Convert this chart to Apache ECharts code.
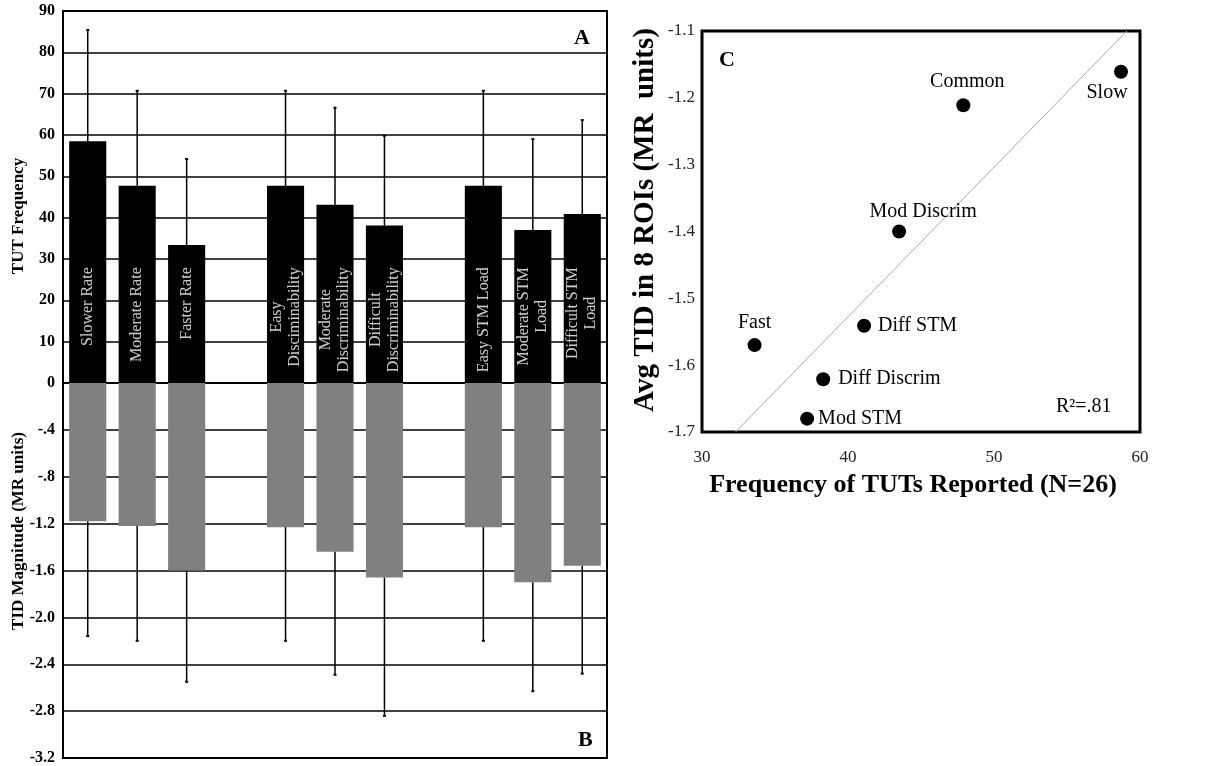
<!DOCTYPE html>
<html>
<head>
<meta charset="utf-8">
<script src="https://cdn.jsdelivr.net/npm/echarts@6/dist/echarts.min.js"></script>
<style>
html,body{margin:0;padding:0;background:#fff;}
#chart{width:1232px;height:766px;}
</style>
</head>
<body>
<div id="chart"></div>
<script>
// ---------- Panel A/B data (11 slots, 2 empty gaps) ----------
const categories = ['Slower Rate', 'Moderate Rate', 'Faster Rate', '',
  'Easy\nDisciminability', 'Moderate\nDiscriminability', 'Difficult\nDiscriminability', '',
  'Easy STM Load', 'Moderate STM\nLoad', 'Difficult STM\nLoad'];
const tutFreq   = [58.5, 47.7, 33.4, null, 47.7, 43.1, 38.1, null, 47.7, 37.0, 40.9];
const tutErrTop = [85.4, 70.7, 54.2, null, 70.7, 66.6, 59.8, null, 70.7, 59.0, 63.6];
const tidMag    = [-1.18, -1.22, -1.60, null, -1.23, -1.44, -1.66, null, -1.23, -1.70, -1.56];
const tidErrLow = [-2.16, -2.20, -2.55, null, -2.20, -2.49, -2.84, null, -2.20, -2.63, -2.48];
const tutTicks  = ['0', '10', '20', '30', '40', '50', '60', '70', '80', '90'];
const tidTicks  = ['0', '-.4', '-.8', '-1.2', '-1.6', '-2.0', '-2.4', '-2.8', '-3.2'];

// ---------- Panel C data ----------
const condNames = ['Slow', 'Common', 'Mod Discrim', 'Fast', 'Diff STM', 'Diff Discrim', 'Mod STM'];
const condFreq  = [58.7, 47.9, 43.5, 33.6, 41.1, 38.3, 37.2];
const condTid   = [-1.161, -1.211, -1.400, -1.570, -1.541, -1.621, -1.680];
const fitX      = [32.3, 59.1];
const fitY      = [-1.7, -1.1];
const freqTicks = ['30', '40', '50', '60'];
const tidCTicks = ['-1.7', '-1.6', '-1.5', '-1.4', '-1.3', '-1.2', '-1.1'];

// ---------- layout / style constants ----------
const SERIF = '"Liberation Serif", "DejaVu Serif", "Times New Roman", serif';
const LABEL_ANCHOR = 28; // value where the white bar captions end
const labelStyleByName = {
  'Slow':         {position: 'bottom', distance: 4, offset: [-14, 0]},
  'Common':       {position: 'top', distance: 6, offset: [4, 0]},
  'Mod Discrim':  {position: 'top', distance: 3, offset: [24, 0]},
  'Fast':         {position: 'top', distance: 5, offset: [0, 0]},
  'Diff STM':     {position: 'right', distance: 7, offset: [0, 0]},
  'Diff Discrim': {position: 'right', distance: 8, offset: [0, 0]},
  'Mod STM':      {position: 'right', distance: 4, offset: [0, 0]}
};

const chart = echarts.init(document.getElementById('chart'), null, {renderer: 'canvas'});

function errRender(params, api) {
  const x = api.value(0);
  const p0 = api.coord([x, api.value(1)]);
  const p1 = api.coord([x, api.value(2)]);
  return {
    type: 'group',
    children: [
      {type: 'line', shape: {x1: p0[0], y1: p0[1], x2: p1[0], y2: p1[1]}, style: {stroke: '#000', lineWidth: 1.5}},
      {type: 'line', shape: {x1: p1[0] - 1.5, y1: p1[1], x2: p1[0] + 1.5, y2: p1[1]}, style: {stroke: '#000', lineWidth: 2}}
    ]
  };
}

const tutErrData = [], tidErrData = [], capData = [];
categories.forEach((c, i) => {
  if (tutFreq[i] != null) tutErrData.push([i, tutFreq[i], tutErrTop[i]]);
  if (tidMag[i] != null) tidErrData.push([i, tidMag[i], tidErrLow[i]]);
  if (c) capData.push([i, LABEL_ANCHOR]);
});

function richCaption(text) {
  return text.split('\n').map(s => '{c|' + s + '}').join('\n');
}

const scatterData = condNames.map((n, i) => {
  const ls = labelStyleByName[n];
  return {
    name: n,
    value: [condFreq[i], condTid[i]],
    label: {position: ls.position, distance: ls.distance, offset: ls.offset}
  };
});

function vTitle(text, x, y, size) {
  return {
    type: 'text', x: x, y: y, rotation: Math.PI / 2, z: 10, silent: true,
    style: {text: text, fill: '#000', fontFamily: SERIF, fontWeight: 'bold', fontSize: size,
      align: 'center', verticalAlign: 'middle', textAlign: 'center', textVerticalAlign: 'middle'}
  };
}

const option = {
  animation: false,
  backgroundColor: '#fff',
  textStyle: {fontFamily: SERIF},
  title: [
    {text: 'A', left: 569, top: 22, textStyle: {fontFamily: SERIF, fontWeight: 'bold', fontSize: 22, color: '#000'}},
    {text: 'B', left: 573, top: 724, textStyle: {fontFamily: SERIF, fontWeight: 'bold', fontSize: 22, color: '#000'}},
    {text: 'C', left: 714, top: 44, textStyle: {fontFamily: SERIF, fontWeight: 'bold', fontSize: 22, color: '#000'}},
    {text: 'R\u00B2=.81', left: 1051, top: 392, textStyle: {fontFamily: SERIF, fontWeight: 'normal', fontSize: 20, color: '#000'}}
  ],
  graphic: [
    vTitle('TUT Frequency', 19, 216, 17),
    vTitle('TID Magnitude (MR units)', 19, 531, 17),
    vTitle('Avg TID in 8 ROIs (MR  units)', 646, 220, 29)
  ],
  grid: [
    {left: 63, top: 11, width: 544, height: 372, show: true, borderColor: '#000', borderWidth: 2, backgroundColor: 'transparent'},
    {left: 63, top: 383, width: 544, height: 375, show: true, borderColor: '#000', borderWidth: 2, backgroundColor: 'transparent'},
    {left: 702, top: 31, width: 438, height: 401, show: true, borderColor: '#000', borderWidth: 3, backgroundColor: 'transparent'}
  ],
  xAxis: [
    {type: 'category', gridIndex: 0, data: categories, axisLine: {show: false}, axisTick: {show: false}, axisLabel: {show: false}, splitLine: {show: false}},
    {type: 'category', gridIndex: 1, data: categories, axisLine: {show: false}, axisTick: {show: false}, axisLabel: {show: false}, splitLine: {show: false}},
    {type: 'value', gridIndex: 2, min: 30, max: 60, interval: 10,
      axisLine: {show: false}, axisTick: {show: false}, splitLine: {show: false},
      axisLabel: {margin: 17, fontFamily: SERIF, fontSize: 17, color: '#222',
        formatter: v => freqTicks[Math.round((v - 30) / 10)]},
      name: 'Frequency of TUTs Reported (N=26)', nameLocation: 'middle', nameGap: 40,
      nameTextStyle: {fontFamily: SERIF, fontWeight: 'bold', fontSize: 26, color: '#000', padding: [0, 16, 0, 0]}}
  ],
  yAxis: [
    {type: 'value', gridIndex: 0, min: 0, max: 90, interval: 10,
      axisLine: {show: false}, axisTick: {show: false},
      splitLine: {show: true, lineStyle: {color: '#000', width: 1.5}},
      axisLabel: {margin: 8, fontFamily: SERIF, fontWeight: 'bold', fontSize: 16, color: '#000',
        formatter: v => tutTicks[Math.round(v / 10)]}},
    {type: 'value', gridIndex: 1, min: -3.2, max: 0, interval: 0.4,
      axisLine: {show: false}, axisTick: {show: false},
      splitLine: {show: true, lineStyle: {color: '#000', width: 1.5}},
      axisLabel: {margin: 8, fontFamily: SERIF, fontWeight: 'bold', fontSize: 16, color: '#000',
        formatter: v => { const k = Math.round(-v / 0.4); return k === 0 ? '' : tidTicks[k]; }}},
    {type: 'value', gridIndex: 2, min: -1.7, max: -1.1, interval: 0.1,
      axisLine: {show: false}, axisTick: {show: false}, splitLine: {show: false},
      axisLabel: {margin: 7, fontFamily: SERIF, fontSize: 17, color: '#222',
        formatter: v => tidCTicks[Math.round((v + 1.7) / 0.1)]}}
  ],
  series: [
    {type: 'bar', xAxisIndex: 0, yAxisIndex: 0, data: tutFreq, barWidth: '75%',
      itemStyle: {color: '#000'}, z: 2},
    {type: 'bar', xAxisIndex: 1, yAxisIndex: 1, data: tidMag, barWidth: '75%',
      itemStyle: {color: '#808080'}, z: 2},
    {type: 'custom', xAxisIndex: 0, yAxisIndex: 0, data: tutErrData, renderItem: errRender, z: 3},
    {type: 'custom', xAxisIndex: 1, yAxisIndex: 1, data: tidErrData, renderItem: errRender, z: 3},
    {type: 'scatter', xAxisIndex: 0, yAxisIndex: 0, data: capData, symbolSize: 0, z: 5, silent: true,
      label: {show: true, position: 'inside', rotate: 90, align: 'right', verticalAlign: 'middle',
        lineHeight: 18,
        formatter: p => richCaption(categories[p.value[0]]),
        rich: {c: {align: 'center', color: '#fff', fontFamily: SERIF, fontSize: 16, lineHeight: 18}}}},
    {type: 'line', xAxisIndex: 2, yAxisIndex: 2, data: fitX.map((x, i) => [x, fitY[i]]),
      symbol: 'none', lineStyle: {color: '#aaa', width: 1}, z: 2, silent: true},
    {type: 'scatter', xAxisIndex: 2, yAxisIndex: 2, data: scatterData, symbolSize: 14,
      itemStyle: {color: '#000', opacity: 1}, z: 4,
      label: {show: true, formatter: p => p.name, fontFamily: SERIF, fontSize: 20, color: '#000', opacity: 1}}
  ]
};
chart.setOption(option);
</script>
</body>
</html>
